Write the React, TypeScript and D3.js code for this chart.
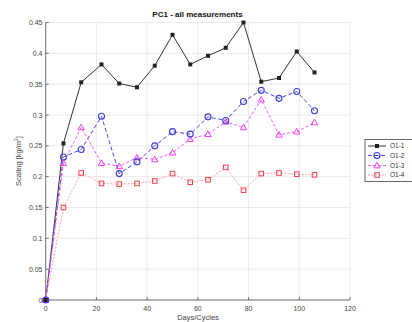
import React from "react";
import * as d3 from "d3";

// Measurement days/cycles shared by all series
const days = [0, 7, 14, 22, 29, 36, 43, 50, 57, 64, 71, 78, 85, 92, 99, 106];

// Scaling values [kg/m²]
const o11 = [0, 0.254, 0.353, 0.382, 0.351, 0.345, 0.38, 0.43, 0.382, 0.396, 0.409, 0.45, 0.354, 0.36, 0.403, 0.369];
const o12 = [0, 0.232, 0.244, 0.298, 0.205, 0.224, 0.25, 0.273, 0.269, 0.297, 0.291, 0.322, 0.34, 0.327, 0.338, 0.307];
const o13 = [0, 0.222, 0.28, 0.222, 0.217, 0.231, 0.228, 0.239, 0.261, 0.269, 0.289, 0.28, 0.325, 0.268, 0.273, 0.288];
const o14 = [0, 0.15, 0.206, 0.189, 0.188, 0.189, 0.193, 0.205, 0.191, 0.195, 0.215, 0.178, 0.205, 0.206, 0.204, 0.203];

const seriesNames = ["O1-1", "O1-2", "O1-3", "O1-4"];
const xTicks = [0, 20, 40, 60, 80, 100, 120];
const yTicks = [0, 0.05, 0.1, 0.15, 0.2, 0.25, 0.3, 0.35, 0.4, 0.45];

const FONT = "'Liberation Sans', Arial, sans-serif";

type Style = {
  color: string;
  lineColor: string;
  dash: string;
  marker: "dot" | "circle" | "triangle" | "square";
};

const styles: Style[] = [
  { color: "#222", lineColor: "#333", dash: "", marker: "dot" },
  { color: "#3b3bdc", lineColor: "#4848e0", dash: "4,2.5", marker: "circle" },
  { color: "#f040f0", lineColor: "#ff55ff", dash: "3,2", marker: "triangle" },
  { color: "#f04050", lineColor: "#ffa0a8", dash: "2,1.5", marker: "square" },
];

function Marker({ x, y, s }: { x: number; y: number; s: Style }) {
  switch (s.marker) {
    case "dot":
      return <rect x={x - 2} y={y - 2} width={4} height={4} fill={s.color} />;
    case "circle":
      return <circle cx={x} cy={y} r={3} fill="none" stroke={s.color} strokeWidth={1.1} />;
    case "triangle":
      return (
        <path
          d={`M${x},${y - 3.2}L${x + 3.2},${y + 2.4}L${x - 3.2},${y + 2.4}Z`}
          fill="none"
          stroke={s.color}
          strokeWidth={1}
        />
      );
    default:
      return <rect x={x - 2.3} y={y - 2.3} width={4.6} height={4.6} fill="none" stroke={s.color} strokeWidth={1} />;
  }
}

export default function App() {
  const x = d3.scaleLinear().domain([0, 120]).range([45.7, 350]);
  const y = d3.scaleLinear().domain([0, 0.45]).range([300, 22.5]);
  const data = [o11, o12, o13, o14];

  const line = (vals: number[]) =>
    d3
      .line<number>()
      .x((_, i) => x(days[i]))
      .y((v) => y(v))(vals) || "";

  const legendY = [146, 155.5, 165.5, 175];

  return (
    <svg
      width={412}
      height={322}
      style={{ position: "absolute", left: 0, top: 0, background: "#fff" }}
      fontFamily={FONT}
    >
      {/* grid */}
      {xTicks.map((t) => (
        <line key={"gx" + t} x1={x(t)} x2={x(t)} y1={y(0)} y2={y(0.45)} stroke="#e4e4e4" strokeWidth={0.8} />
      ))}
      {yTicks.map((t) => (
        <line key={"gy" + t} x1={x(0)} x2={x(120)} y1={y(t)} y2={y(t)} stroke="#e4e4e4" strokeWidth={0.8} />
      ))}

      {/* axes */}
      <line x1={x(0)} x2={x(0)} y1={y(0)} y2={y(0.45)} stroke="#555" strokeWidth={0.8} />
      <line x1={x(0)} x2={x(120)} y1={y(0)} y2={y(0)} stroke="#555" strokeWidth={0.8} />
      {xTicks.map((t) => (
        <g key={"xt" + t}>
          <line x1={x(t)} x2={x(t)} y1={y(0)} y2={y(0) - 3} stroke="#555" strokeWidth={0.8} />
          <text x={x(t)} y={311} fontSize={7} fill="#444" textAnchor="middle">
            {t}
          </text>
        </g>
      ))}
      {yTicks.map((t) => (
        <g key={"yt" + t}>
          <line x1={x(0)} x2={x(0) + 3} y1={y(t)} y2={y(t)} stroke="#555" strokeWidth={0.8} />
          <text x={42.5} y={y(t) + 2.5} fontSize={7} fill="#444" textAnchor="end">
            {t}
          </text>
        </g>
      ))}

      {/* series */}
      {data.map((vals, k) => (
        <path
          key={"l" + k}
          d={line(vals)}
          fill="none"
          stroke={styles[k].lineColor}
          strokeWidth={1}
          strokeDasharray={styles[k].dash}
        />
      ))}
      {data
        .map((vals, k) =>
          vals.map((v, i) => <Marker key={`m${k}-${i}`} x={x(days[i])} y={y(v)} s={styles[k]} />)
        )
        .reverse()}

      {/* title and labels */}
      <text x={197.5} y={17} fontSize={8} fontWeight="bold" textAnchor="middle" fill="#111">
        PC1 - all measurements
      </text>
      <text x={198} y={320} fontSize={7.5} textAnchor="middle" fill="#444">
        Days/Cycles
      </text>
      <text transform="translate(21,161) rotate(-90)" fontSize={7.5} textAnchor="middle" fill="#444">
        Scaling [kg/m<tspan baselineShift="super" fontSize={5}>2</tspan>]
      </text>

      {/* legend */}
      <rect x={365} y={139.5} width={60} height={42} fill="#fff" stroke="#444" strokeWidth={0.8} />
      {seriesNames.map((n, k) => (
        <g key={"lg" + n}>
          <line
            x1={368}
            x2={386}
            y1={legendY[k]}
            y2={legendY[k]}
            stroke={styles[k].lineColor}
            strokeWidth={1}
            strokeDasharray={styles[k].dash}
          />
          <Marker x={377} y={legendY[k]} s={styles[k]} />
          <text x={390} y={legendY[k] + 2.3} fontSize={6.5} fill="#333">
            {n}
          </text>
        </g>
      ))}
    </svg>
  );
}
